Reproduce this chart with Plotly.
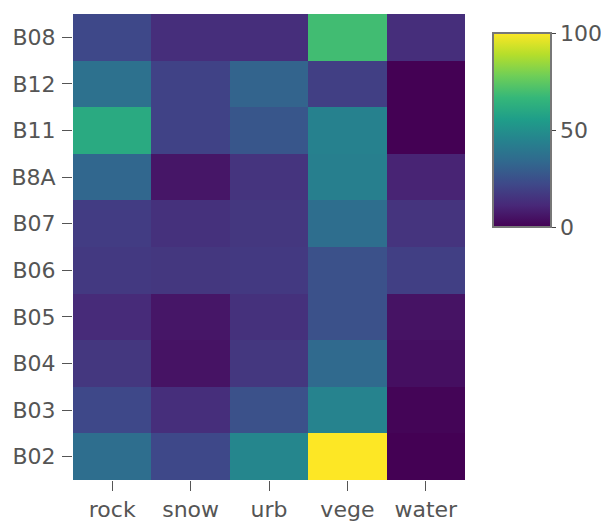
import plotly.graph_objects as go

classes = ["rock", "snow", "urb", "vege", "water"]
bands = ["B02", "B03", "B04", "B05", "B06", "B07", "B8A", "B11", "B12", "B08"]

# values[band][class]
b02 = [36, 22, 46, 100, 0]
b03 = [22, 13, 25, 45, 1]
b04 = [16, 5, 16, 34, 4]
b05 = [12, 6, 14, 25, 5]
b06 = [17, 16, 17, 25, 19]
b07 = [18, 14, 16, 36, 15]
b8a = [33, 6, 15, 43, 10]
b11 = [61, 20, 27, 44, 0]
b12 = [37, 20, 32, 19, 0]
b08 = [22, 13, 13, 69, 13]

z = [b02, b03, b04, b05, b06, b07, b8a, b11, b12, b08]

fig = go.Figure(go.Heatmap(
    z=z, x=classes, y=bands,
    colorscale="Viridis", zmin=0, zmax=100,
    colorbar=dict(
        x=1.071, xanchor="left", xpad=0,
        y=0.959, yanchor="top", ypad=0,
        lenmode="pixels", len=194,
        thicknessmode="pixels", thickness=58,
        outlinewidth=2, outlinecolor="#777",
        tickvals=[0, 50, 100], ticks="outside", ticklen=4,
        tickfont=dict(size=22, color="#555"),
    ),
))

fig.update_layout(
    width=609, height=521,
    margin=dict(l=65, r=152, t=6, b=49),
    paper_bgcolor="white", plot_bgcolor="white",
    font=dict(family="DejaVu Sans", size=22, color="#555"),
)
fig.update_xaxes(ticks="outside", ticklen=10, tickcolor="#555", showgrid=False,
                 zeroline=False, automargin=False)
fig.update_yaxes(ticks="outside", ticklen=10, tickcolor="#555", showgrid=False,
                 zeroline=False, automargin=False, ticklabelstandoff=2)

fig.write_html("out.html")
